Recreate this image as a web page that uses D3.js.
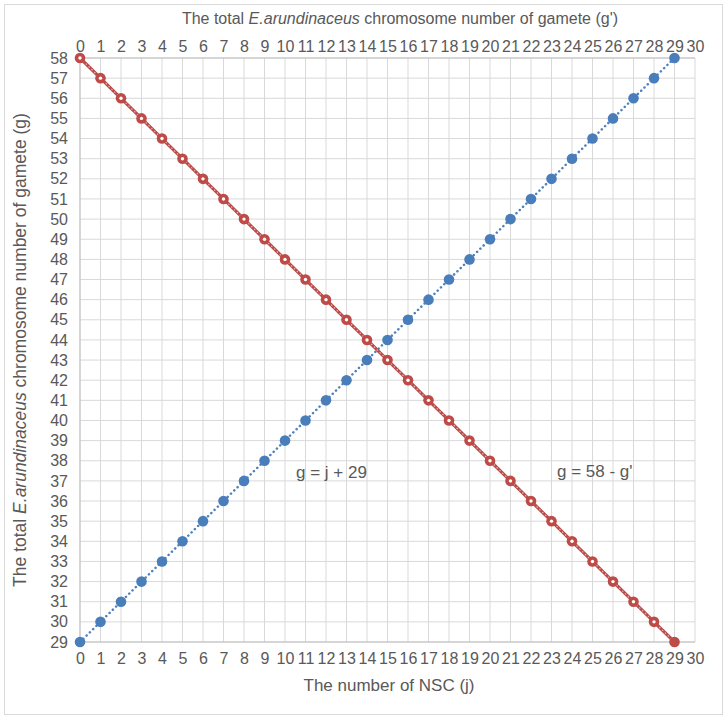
<!DOCTYPE html>
<html>
<head>
<meta charset="utf-8">
<script src="https://cdn.jsdelivr.net/npm/d3@7"></script>
<style>
  body { margin: 0; background: #fff; }
  text { font-family: "Liberation Sans", Arial, sans-serif; fill: #595959; }
</style>
</head>
<body>
<svg id="chart" width="727" height="719"></svg>
<script>
// data
const nscJ   = [0,1,2,3,4,5,6,7,8,9,10,11,12,13,14,15,16,17,18,19,20,21,22,23,24,25,26,27,28,29];
const gFromJ = [29,30,31,32,33,34,35,36,37,38,39,40,41,42,43,44,45,46,47,48,49,50,51,52,53,54,55,56,57,58];
const gPrime = [0,1,2,3,4,5,6,7,8,9,10,11,12,13,14,15,16,17,18,19,20,21,22,23,24,25,26,27,28,29];
const gFromGp= [58,57,56,55,54,53,52,51,50,49,48,47,46,45,44,43,42,41,40,39,38,37,36,35,34,33,32,31,30,29];
const xTicks = d3.range(0, 31);
const yTicks = d3.range(29, 59);

const svg = d3.select('#chart');

// outer frame
svg.append('rect').attr('x', 4.5).attr('y', 4.5).attr('width', 718).attr('height', 710)
  .attr('fill', '#fff').attr('stroke', '#d9d9d9');

const plot = { left: 80, right: 695, top: 58, bottom: 642 };

const x = d3.scaleLinear().domain([0, 30]).range([plot.left, plot.right]);
const y = d3.scaleLinear().domain([29, 58]).range([plot.bottom, plot.top]);

// grid
const grid = svg.append('g');
grid.selectAll('line.v').data(xTicks).enter().append('line')
  .attr('x1', d => x(d)).attr('x2', d => x(d))
  .attr('y1', plot.top).attr('y2', plot.bottom)
  .attr('stroke', '#d9d9d9').attr('stroke-width', 1);
grid.selectAll('line.h').data(yTicks).enter().append('line')
  .attr('x1', plot.left).attr('x2', plot.right)
  .attr('y1', d => y(d)).attr('y2', d => y(d))
  .attr('stroke', '#d9d9d9').attr('stroke-width', 1);

// axes (labels only, excel style)
const bottomAxis = svg.append('g').attr('transform', `translate(0,${plot.bottom})`)
  .call(d3.axisBottom(x).tickValues(xTicks).tickSize(0).tickPadding(11));
const topAxis = svg.append('g').attr('transform', `translate(0,${plot.top})`)
  .call(d3.axisTop(x).tickValues(xTicks).tickSize(0).tickPadding(6));
const leftAxis = svg.append('g').attr('transform', `translate(${plot.left},0)`)
  .call(d3.axisLeft(y).tickValues(yTicks).tickSize(0).tickPadding(12));

[bottomAxis, topAxis, leftAxis].forEach(a => {
  a.select('.domain').remove();
  a.selectAll('text').attr('font-size', 16).attr('fill', '#595959')
    .attr('font-family', '"Liberation Sans", Arial, sans-serif');
});
// axis lines
svg.append('line').attr('x1', plot.left).attr('x2', plot.right)
  .attr('y1', plot.bottom).attr('y2', plot.bottom).attr('stroke', '#bfbfbf');
svg.append('line').attr('x1', plot.left).attr('x2', plot.left)
  .attr('y1', plot.top).attr('y2', plot.bottom).attr('stroke', '#bfbfbf');
svg.append('line').attr('x1', plot.left).attr('x2', plot.right)
  .attr('y1', plot.top).attr('y2', plot.top).attr('stroke', '#bfbfbf');

// titles
const topTitle = svg.append('text').attr('x', 400).attr('y', 24)
  .attr('text-anchor', 'middle').attr('font-size', 16);
topTitle.append('tspan').text('The total ');
topTitle.append('tspan').attr('font-style', 'italic').text('E.arundinaceus');
topTitle.append('tspan').text(' chromosome number  of gamete (g\')');

svg.append('text').attr('x', 389).attr('y', 691).attr('text-anchor', 'middle')
  .attr('font-size', 17).text('The number of NSC (j)');

const leftTitle = svg.append('text')
  .attr('transform', `translate(26,${(plot.top + plot.bottom) / 2}) rotate(-90)`)
  .attr('text-anchor', 'middle').attr('font-size', 17.5);
leftTitle.append('tspan').text('The total ');
leftTitle.append('tspan').attr('font-style', 'italic').text('E.arundinaceus');
leftTitle.append('tspan').text(' chromosome number  of gamete (g)');

// series
const blueData = nscJ.map((d, i) => ({ x: d, y: gFromJ[i] }));
const redData = gPrime.map((d, i) => ({ x: d, y: gFromGp[i] }));
const line = d3.line().x(d => x(d.x)).y(d => y(d.y));

svg.append('path').datum(blueData).attr('d', line)
  .attr('fill', 'none').attr('stroke', '#4f81bd').attr('stroke-width', 2.5)
  .attr('stroke-dasharray', '0.1,4.5').attr('stroke-linecap', 'round');

svg.append('path').datum(redData).attr('d', line)
  .attr('fill', 'none').attr('stroke', '#b84c4a').attr('stroke-width', 3.2);
svg.append('path').datum(redData).attr('d', line)
  .attr('fill', 'none').attr('stroke', '#e8b4b2').attr('stroke-width', 1.2)
  .attr('stroke-dasharray', '1.5,2.5');

svg.append('g').selectAll('circle').data(blueData).enter().append('circle')
  .attr('cx', d => x(d.x)).attr('cy', d => y(d.y)).attr('r', 5.3)
  .attr('fill', '#4a7ebb');

const redMarks = svg.append('g').selectAll('g').data(redData).enter().append('g')
  .attr('transform', d => `translate(${x(d.x)},${y(d.y)})`);
redMarks.append('circle').attr('r', 5.3).attr('fill', '#be4b48');
redMarks.append('circle').attr('r', 1.7).attr('fill', '#fff')
  .attr('opacity', (d, i) => i === redData.length - 1 ? 0 : 1);

// annotations
svg.append('text').attr('x', 296).attr('y', 478).attr('font-size', 17).text('g = j + 29');
svg.append('text').attr('x', 557).attr('y', 477).attr('font-size', 17).text('g = 58 - g\'');
</script>
</body>
</html>
